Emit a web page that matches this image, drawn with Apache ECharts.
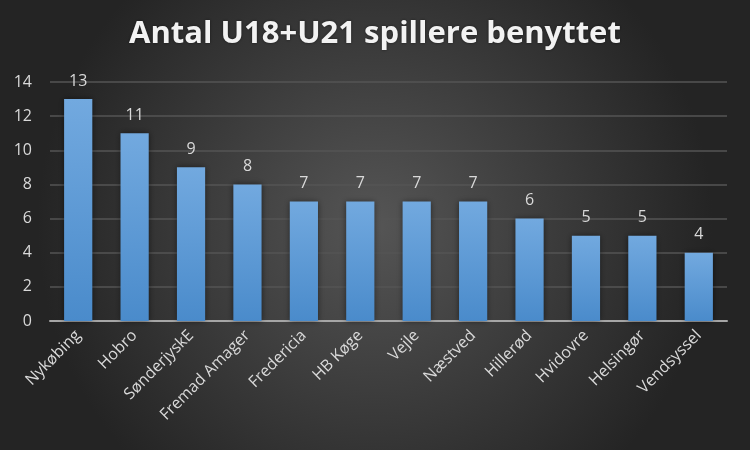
<!DOCTYPE html>
<html>
<head>
<meta charset="utf-8">
<script src="https://cdn.jsdelivr.net/npm/echarts@6/dist/echarts.min.js"></script>
<style>
  html, body { margin: 0; padding: 0; }
  #chart { width: 750px; height: 450px; }
</style>
</head>
<body>
<div id="chart"></div>
<script>
// klubber og antal spillere
const clubs = ["Nykøbing", "Hobro", "SønderjyskE", "Fremad Amager", "Fredericia", "HB Køge", "Vejle", "Næstved", "Hillerød", "Hvidovre", "Helsingør", "Vendsyssel"];
const players = [13, 11, 9, 8, 7, 7, 7, 7, 6, 5, 5, 4];

const chart = echarts.init(document.getElementById("chart"));
chart.setOption({
  backgroundColor: new echarts.graphic.RadialGradient(0.5, 0.5, 0.75, [
    { offset: 0, color: "#555555" },
    { offset: 1, color: "#242424" }
  ]),
  title: {
    text: "Antal U18+U21 spillere benyttet",
    left: "center",
    top: 14,
    textStyle: {
      color: "#f2f2f2",
      fontFamily: "Open Sans",
      fontWeight: "bold",
      fontSize: 31,
      textShadowColor: "rgba(0,0,0,0.5)",
      textShadowBlur: 3
    }
  },
  grid: { left: 50, right: 23, top: 82, bottom: 129 },
  xAxis: {
    type: "category",
    data: clubs,
    axisLine: { lineStyle: { color: "#a6a6a6", width: 2 } },
    axisTick: { show: false },
    axisLabel: {
      rotate: 45,
      interval: 0,
      color: "#d9d9d9",
      fontSize: 16,
      fontFamily: "Open Sans",
      margin: 12
    }
  },
  yAxis: {
    type: "value",
    min: 0,
    max: 14,
    interval: 2,
    axisLabel: { color: "#d9d9d9", fontSize: 16, fontFamily: "Open Sans", margin: 18 },
    splitLine: { lineStyle: { color: "#555555", width: 1.5 } },
    axisLine: { show: false },
    axisTick: { show: false }
  },
  series: [{
    type: "bar",
    data: players,
    barWidth: "50%",
    itemStyle: {
      color: new echarts.graphic.LinearGradient(0, 0, 0, 1, [
        { offset: 0, color: "#72a9df" },
        { offset: 1, color: "#4a8bcb" }
      ]),
      shadowColor: "rgba(0,0,0,0.5)",
      shadowBlur: 6
    },
    label: {
      show: true,
      position: "top",
      distance: 10,
      color: "#d9d9d9",
      fontSize: 16,
      fontFamily: "Open Sans"
    }
  }]
});
</script>
</body>
</html>
